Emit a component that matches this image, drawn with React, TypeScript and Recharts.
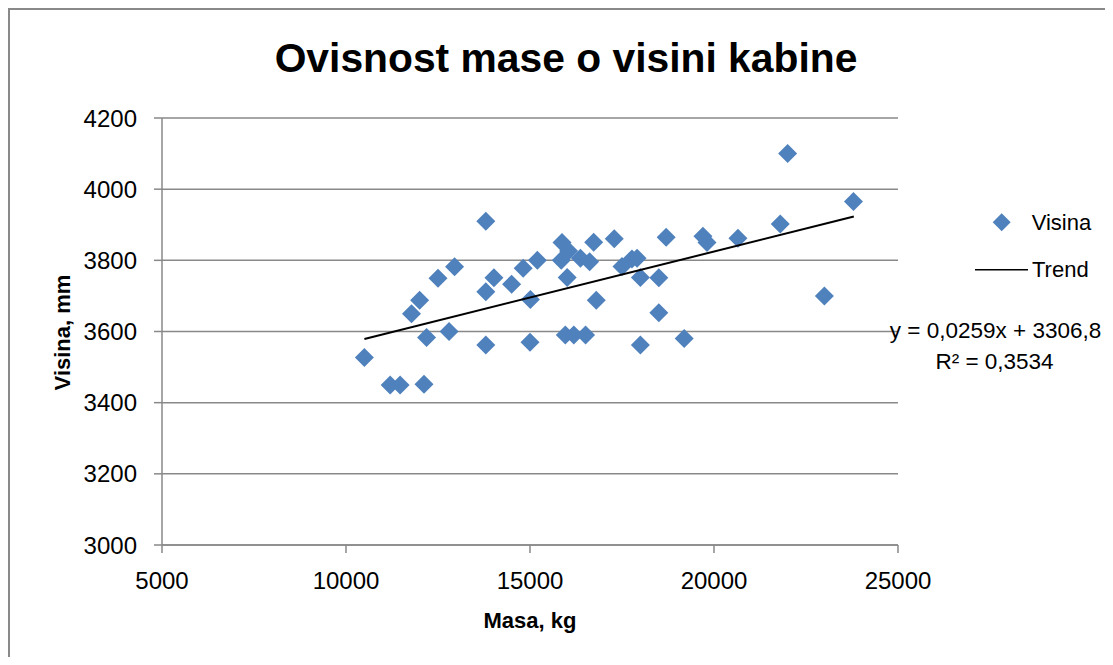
import React from 'react';
import {
  ScatterChart,
  Scatter,
  XAxis,
  YAxis,
  CartesianGrid,
  Legend,
} from 'recharts';

// mass (kg) and cabin height (mm)
const masa = [
  10500, 11200, 11470, 12120, 11780, 12000, 12190, 12500, 12950, 12800,
  13800, 13800, 13800, 14020, 14500, 14815, 15010, 15000, 15200, 15870,
  16050, 15850, 16010, 15960, 16190, 16510, 16370, 16620, 16730, 16800,
  17290, 17500, 17770, 17910, 18000, 18000, 18500, 18500, 18700, 19190,
  19700, 19810, 20650, 21800, 22000, 23000, 23790,
];
const visina = [
  3527, 3450, 3450, 3452, 3650, 3688, 3583, 3750, 3782, 3600,
  3910, 3712, 3562, 3751, 3733, 3778, 3690, 3570, 3800, 3850,
  3826, 3800, 3752, 3590, 3590, 3590, 3806, 3796, 3851, 3688,
  3861, 3783, 3804, 3806, 3752, 3562, 3751, 3653, 3865, 3580,
  3868, 3850, 3862, 3902, 4100, 3700, 3965,
];

// trend line end points as drawn in the chart
const trendMasa = [10500, 23800];
const trendVisina = [3579, 3923];

const xTicks = [5000, 10000, 15000, 20000, 25000];
const yTicks = [3000, 3200, 3400, 3600, 3800, 4000, 4200];

const points = masa.map((m, i) => ({ masa: m, visina: visina[i] }));
const trend = trendMasa.map((m, i) => ({ masa: m, visina: trendVisina[i] }));

const FONT = "'Liberation Sans', Arial, sans-serif";
const BLUE = '#4F81BD';
const GRAY = '#898989';

const Diamond = (props: any) => {
  const { cx, cy } = props;
  const r = 9.5;
  return (
    <polygon
      points={`${cx},${cy - r} ${cx + r},${cy} ${cx},${cy + r} ${cx - r},${cy}`}
      fill={BLUE}
    />
  );
};

const NoPoint = () => <g />;

const renderLegend = () => (
  <svg width={150} height={90} style={{ display: 'block' }}>
    <polygon points="33.7,15.3 42.7,24.3 33.7,33.3 24.7,24.3" fill={BLUE} />
    <text x={63.7} y={32} fontFamily={FONT} fontSize={22} fill="#000">
      Visina
    </text>
    <line x1={7} y1={71.7} x2={60} y2={71.7} stroke="#000" strokeWidth={1.5} />
    <text x={64} y={79.3} fontFamily={FONT} fontSize={22} fill="#000">
      Trend
    </text>
  </svg>
);

export default function App() {
  return (
    <div style={{ position: 'relative', width: 1105, height: 649, background: '#fff' }}>
      <div style={{ position: 'absolute', left: 0, top: 0 }}>
        <ScatterChart
          width={1105}
          height={649}
          margin={{ top: 110, right: 215, bottom: 72, left: 94 }}
        >
          <CartesianGrid
            vertical={false}
            stroke={GRAY}
            strokeWidth={1.5}
          />
          <XAxis
            type="number"
            dataKey="masa"
            domain={[5000, 25000]}
            ticks={xTicks}
            height={40}
            tickSize={8}
            tickMargin={19}
            stroke={GRAY}
            strokeWidth={1.5}
            tick={{ fill: '#000', fontSize: 24, fontFamily: FONT }}
          />
          <YAxis
            type="number"
            dataKey="visina"
            domain={[3000, 4200]}
            ticks={yTicks}
            width={60}
            tickSize={8}
            tickMargin={17}
            stroke={GRAY}
            strokeWidth={1.5}
            tick={{ fill: '#000', fontSize: 24, fontFamily: FONT }}
          />
          <Legend
            layout="vertical"
            align="center"
            verticalAlign="middle"
            content={renderLegend}
            wrapperStyle={{ left: 960, top: 190, width: 150, height: 90 }}
          />
          <Scatter
            name="Visina"
            data={points}
            fill={BLUE}
            shape={Diamond}
            isAnimationActive={false}
          />
          <Scatter
            name="Trend"
            data={trend}
            fill="none"
            stroke="#000"
            line={{ stroke: '#000', strokeWidth: 2 }}
            lineType="joint"
            shape={NoPoint}
            isAnimationActive={false}
          />
        </ScatterChart>
      </div>
      <svg
        width={1105}
        height={649}
        style={{ position: 'absolute', left: 0, top: 0, overflow: 'visible', pointerEvents: 'none' }}
      >
        {/* outer chart frame, its right and bottom edges fall outside the page */}
        <path d="M 1 660 L 1 1 L 1120 1" fill="none" stroke={GRAY} strokeWidth={2} />
        <text
          x={558}
          y={63.7}
          textAnchor="middle"
          fontFamily={FONT}
          fontWeight="bold"
          fontSize={40.8}
          fill="#000"
        >
          Ovisnost mase o visini kabine
        </text>
        <text
          x={522}
          y={620}
          textAnchor="middle"
          fontFamily={FONT}
          fontWeight="bold"
          fontSize={22}
          fill="#000"
        >
          Masa, kg
        </text>
        <text
          transform="translate(62, 324.5) rotate(-90)"
          textAnchor="middle"
          fontFamily={FONT}
          fontWeight="bold"
          fontSize={22}
          fill="#000"
        >
          Visina, mm
        </text>
        <text
          x={987.5}
          y={330.3}
          textAnchor="middle"
          fontFamily={FONT}
          fontSize={22.5}
          fill="#000"
        >
          y = 0,0259x + 3306,8
        </text>
        <text
          x={986.5}
          y={361}
          textAnchor="middle"
          fontFamily={FONT}
          fontSize={22.5}
          fill="#000"
        >
          R² = 0,3534
        </text>
      </svg>
    </div>
  );
}
